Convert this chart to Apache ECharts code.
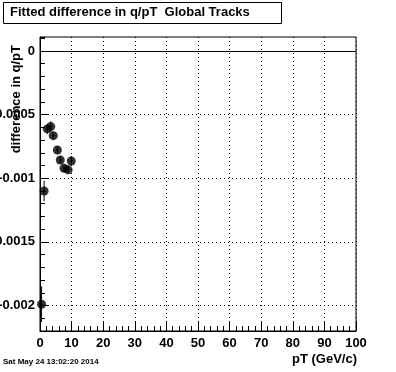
<!DOCTYPE html>
<html>
<head>
<meta charset="utf-8">
<script src="https://cdn.jsdelivr.net/npm/echarts@6/dist/echarts.min.js"></script>
<style>
html,body{margin:0;padding:0;background:#fff;}
#c{width:396px;height:372px;}
</style>
</head>
<body>
<div id="c"></div>
<script>
// ---- data ----
var pT      = [0.5, 1.3, 2.3, 3.4, 4.2, 5.5, 6.4, 7.6, 8.9, 9.9];
var diff    = [-0.00199, -0.00110, -0.000612, -0.000594, -0.000665, -0.000778, -0.000856, -0.000921, -0.000934, -0.000864];
var diffErr = [0.00014, 0.00008, 0.00004, 0.00004, 0.00003, 0.00003, 0.00003, 0.00003, 0.00003, 0.00004];
var pTErr   = [0.5, 0.5, 0.5, 0.5, 0.5, 0.5, 0.5, 0.5, 0.5, 0.5];
var yMajorTicks = [0, -0.0005, -0.001, -0.0015, -0.002];
var yLabels = ['0', '-0.0005', '-0.001', '-0.0015', '-0.002'];
var titleText = 'Fitted difference in q/pT  Global Tracks';
var xTitle = 'pT (GeV/c)';
var yTitle = 'difference in q/pT';
var dateText = 'Sat May 24 13:02:20 2014';

var FONT = '"Liberation Sans", Arial, Helvetica, sans-serif';
var points = pT.map(function (x, i) { return [x, diff[i]]; });
var errData = pT.map(function (x, i) { return [x, diff[i], pTErr[i], diffErr[i]]; });

var chart = echarts.init(document.getElementById('c'), null, {renderer: 'canvas'});
var option = {
  animation: false,
  backgroundColor: '#fff',
  grid: {left: 40, right: 40, top: 37, bottom: 41, containLabel: false, outerBoundsMode: 'none',
         show: true, borderColor: '#000', borderWidth: 1, backgroundColor: 'transparent'},
  xAxis: [{
    type: 'value', min: 0, max: 100, interval: 10,
    axisLine: {show: true, onZero: false, lineStyle: {color: '#000', width: 1}},
    axisTick: {show: true, inside: true, length: 9, lineStyle: {color: '#000', width: 1}},
    minorTick: {show: true, splitNumber: 5, length: 5, lineStyle: {color: '#000', width: 1}},
    axisLabel: {color: '#000', fontFamily: FONT, fontWeight: 'bold', fontSize: 13, margin: 6},
    splitLine: {show: true, lineStyle: {color: '#000', width: 1, type: [1, 3]}}
  }],
  yAxis: [{
    type: 'value', min: -0.0022, max: 0.00011,
    axisLine: {show: true, onZero: false, lineStyle: {color: '#000', width: 1}},
    axisTick: {show: true, inside: true, length: 9, customValues: yMajorTicks, lineStyle: {color: '#000', width: 1}},
    axisLabel: {show: true, customValues: yMajorTicks, color: '#000', fontFamily: FONT, fontWeight: 'bold', fontSize: 13, margin: 5,
      formatter: function (v) {
        for (var i = 0; i < yMajorTicks.length; i++) { if (Math.abs(v - yMajorTicks[i]) < 1e-9) return yLabels[i]; }
        return '';
      }},
    splitLine: {show: true, lineStyle: {color: '#000', width: 1, type: [1, 3]}}
  }, {
    type: 'value', min: -0.0022, max: 0.00011, interval: 0.0001, position: 'left', offset: 0,
    axisLine: {show: false},
    axisTick: {show: true, inside: true, length: 5, lineStyle: {color: '#000', width: 1}},
    axisLabel: {show: false},
    splitLine: {show: false}
  }],
  series: [{
    type: 'custom',
    xAxisIndex: 0, yAxisIndex: 0,
    data: errData,
    z: 3,
    renderItem: function (params, api) {
      var x = api.value(0), y = api.value(1), ex = api.value(2), ey = api.value(3);
      var top = api.coord([x, y + ey]);
      var bot = api.coord([x, y - ey]);
      var lft = api.coord([x - ex, y]);
      var rgt = api.coord([x + ex, y]);
      var st = {stroke: '#000', lineWidth: 1};
      return {type: 'group', children: [
        {type: 'line', shape: {x1: top[0], y1: top[1], x2: bot[0], y2: bot[1]}, style: st},
        {type: 'line', shape: {x1: lft[0], y1: lft[1], x2: rgt[0], y2: rgt[1]}, style: st}
      ]};
    }
  }, {
    type: 'scatter',
    xAxisIndex: 0, yAxisIndex: 0,
    data: points,
    symbol: 'circle', symbolSize: 9,
    itemStyle: {color: '#000'},
    z: 4,
    markLine: {
      silent: true, symbol: 'none', animation: false,
      label: {show: false},
      lineStyle: {color: '#000', width: 1, type: 'solid'},
      data: [{yAxis: 0}]
    }
  }],
  graphic: [
    {type: 'rect', shape: {x: 3.5, y: 2.5, width: 278, height: 21}, style: {fill: '#fff', stroke: '#000', lineWidth: 1}},
    {type: 'text', x: 10, y: 12.5, style: {text: titleText, font: 'bold 13px ' + FONT, fill: '#000', textAlign: 'left', textVerticalAlign: 'middle'}},
    {type: 'text', x: 357, y: 359, style: {text: xTitle, font: 'bold 13px ' + FONT, fill: '#000', textAlign: 'right', textVerticalAlign: 'middle'}},
    {type: 'text', x: 16.5, y: 45, rotation: Math.PI / 2, style: {text: yTitle, font: 'bold 13px ' + FONT, fill: '#000', textAlign: 'right', textVerticalAlign: 'middle'}},
    {type: 'text', x: 3, y: 362, style: {text: dateText, font: 'bold 8px ' + FONT, fill: '#000', textAlign: 'left', textVerticalAlign: 'middle'}}
  ]
};
chart.setOption(option);
</script>
</body>
</html>
